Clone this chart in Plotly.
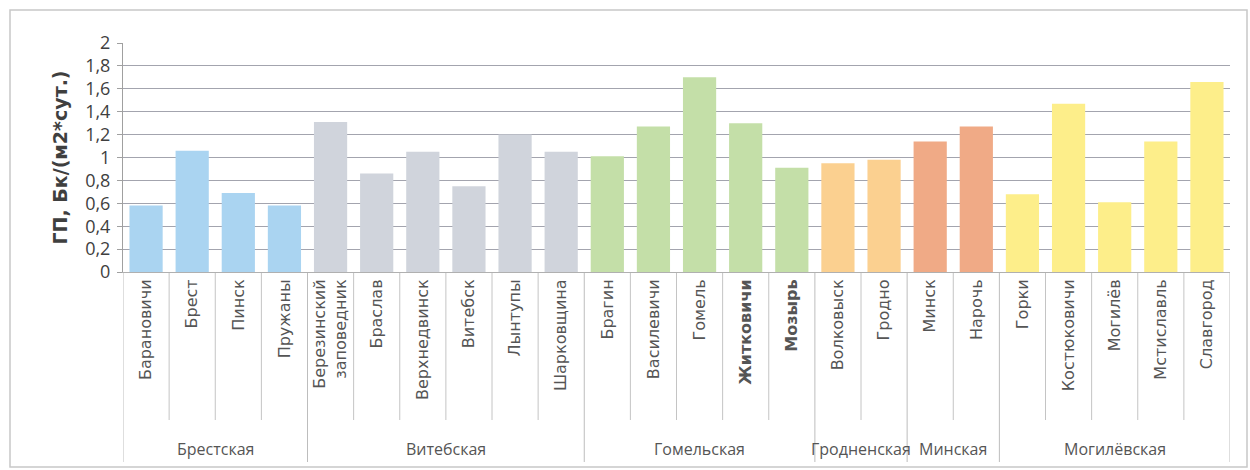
import plotly.graph_objects as go

# Station names (one bar each) grouped by region
stations = [
    "Барановичи", "Брест", "Пинск", "Пружаны",
    "Березинский<br>заповедник", "Браслав", "Верхнедвинск", "Витебск", "Лынтупы", "Шарковщина",
    "Брагин", "Василевичи", "Гомель", "<b>Житковичи</b>", "<b>Мозырь</b>",
    "Волковыск", "Гродно",
    "Минск", "Нарочь",
    "Горки", "Костюковичи", "Могилёв", "Мстиславль", "Славгород",
]
deposition = [
    0.58, 1.06, 0.69, 0.58,
    1.31, 0.86, 1.05, 0.75, 1.20, 1.05,
    1.01, 1.27, 1.70, 1.30, 0.91,
    0.95, 0.98,
    1.14, 1.27,
    0.68, 1.47, 0.61, 1.14, 1.66,
]
regions = ["Брестская", "Витебская", "Гомельская", "Гродненская", "Минская", "Могилёвская"]
region_sizes = [4, 6, 5, 2, 2, 5]
region_colors = ["#AAD4F1", "#D0D4DC", "#C4DFA8", "#FBD090", "#F0AA86", "#FDEE8A"]

y_ticks = [0, 0.2, 0.4, 0.6, 0.8, 1, 1.2, 1.4, 1.6, 1.8, 2]
y_tick_text = ["0", "0,2", "0,4", "0,6", "0,8", "1", "1,2", "1,4", "1,6", "1,8", "2"]

# Page geometry (pixels)
W, H = 1250, 470
ML, MR, MT, MB = 123, 20, 43, 198
plot_w = W - ML - MR
plot_h = H - MT - MB

def px_to_paper_x(px):
    return (px - ML) / plot_w

def px_to_paper_y(py):
    return (H - MB - py) / plot_h

bar_colors = []
for color, n in zip(region_colors, region_sizes):
    bar_colors += [color] * n

idx = list(range(len(stations)))

fig = go.Figure(
    go.Bar(
        x=idx,
        y=deposition,
        marker=dict(color=bar_colors, line=dict(width=0)),
        width=0.72,
        hoverinfo="y",
    )
)

TXT = "#555555"
DARK = "#3F3F3F"
GRID = "#A3A4AE"
SEP = "#C4C4C4"

shapes = []
annotations = []

# Separators of the two-level category axis
inner_end = px_to_paper_y(420)
group_end = px_to_paper_y(462)
boundaries = set()
start = 0
for n in region_sizes:
    boundaries.add(start - 0.5)
    start += n
boundaries.add(start - 0.5)
for b in [i - 0.5 for i in range(len(stations) + 1)]:
    shapes.append(dict(
        type="line", xref="x", yref="paper",
        x0=b, x1=b, y0=0, y1=group_end if b in boundaries else inner_end,
        line=dict(color="#BDBDBD" if b in boundaries else SEP, width=1),
        layer="below",
    ))

# Region labels centred under their stations
start = 0
for name, n in zip(regions, region_sizes):
    annotations.append(dict(
        x=start + (n - 1) / 2, y=px_to_paper_y(449), xref="x", yref="paper",
        text=name, showarrow=False, xanchor="center", yanchor="middle",
        font=dict(size=16, color=TXT, family="Open Sans"),
    ))
    start += n

# Outer chart frame
shapes.append(dict(
    type="rect", xref="paper", yref="paper",
    x0=px_to_paper_x(10), x1=px_to_paper_x(1247),
    y0=px_to_paper_y(467), y1=px_to_paper_y(10),
    line=dict(color="#C8C8C8", width=1.5), fillcolor="rgba(0,0,0,0)",
    layer="below",
))

fig.update_layout(
    width=W, height=H,
    margin=dict(l=ML, r=MR, t=MT, b=MB, autoexpand=False),
    paper_bgcolor="white", plot_bgcolor="white",
    showlegend=False,
    font=dict(family="Open Sans", color=TXT),
    xaxis=dict(
        range=[-0.5, len(stations) - 0.5],
        tickvals=idx, ticktext=stations,
        tickangle=-90,
        tickfont=dict(size=16, color=TXT, family="DejaVu Sans"),
        ticks="", showgrid=False, zeroline=False,
        showline=True, linecolor="#B0B0B0", linewidth=1,
        fixedrange=True,
    ),
    yaxis=dict(
        range=[0, 2],
        tickvals=y_ticks, ticktext=y_tick_text,
        tickfont=dict(size=18, color=DARK, family="Open Sans"),
        ticks="outside", ticklen=5, tickcolor="#A0A0A0",
        ticklabelstandoff=3,
        showgrid=True, gridcolor=GRID, gridwidth=1,
        showline=True, linecolor="#A0A0A0", linewidth=1,
        zeroline=False,
        title=dict(
            text="<b>ГП, Бк/(м2*сут.)</b>",
            font=dict(size=19, color=DARK, family="DejaVu Sans"),
            standoff=12,
        ),
        fixedrange=True,
    ),
    shapes=shapes,
    annotations=annotations,
)

fig.write_html("out.html")
